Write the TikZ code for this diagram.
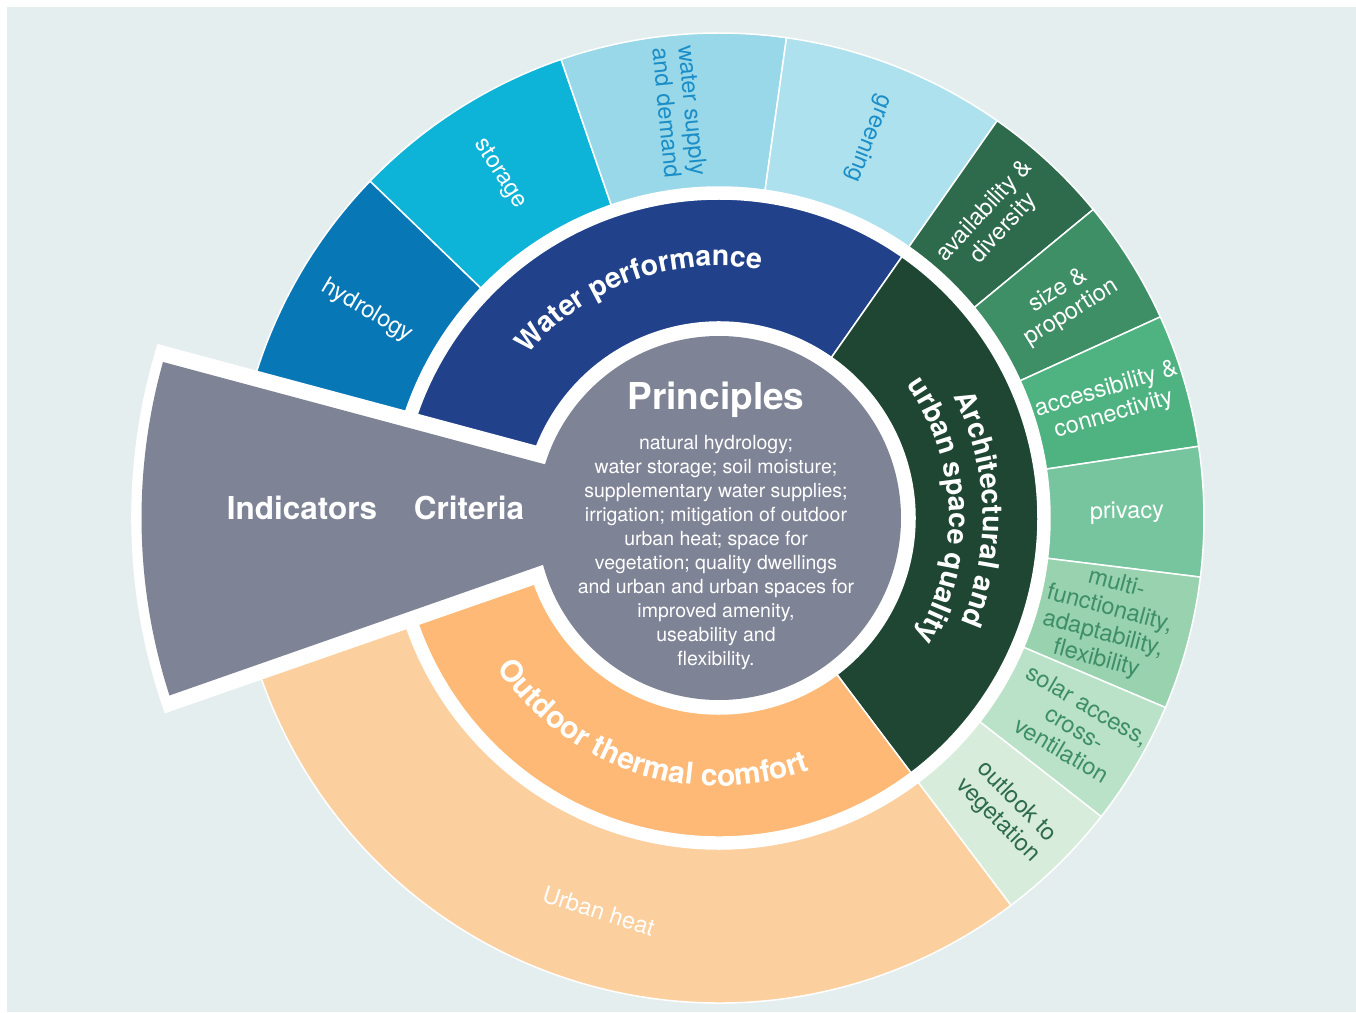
\documentclass[tikz,border=0pt]{standalone}
\usepackage{fontspec}
\setmainfont{TeX Gyre Heros}
\usetikzlibrary{decorations.text}
\definecolor{panel}{RGB}{229,238,239}
\definecolor{slate}{RGB}{126,131,150}
\definecolor{waterdark}{RGB}{33,65,138}
\definecolor{hydro}{RGB}{8,119,182}
\definecolor{stor}{RGB}{14,180,215}
\definecolor{supply}{RGB}{152,216,232}
\definecolor{greenblue}{RGB}{174,225,238}
\definecolor{bluetext}{RGB}{27,141,199}
\definecolor{archdark}{RGB}{30,70,50}
\definecolor{avail}{RGB}{46,107,77}
\definecolor{sizep}{RGB}{62,142,102}
\definecolor{access}{RGB}{78,179,129}
\definecolor{priv}{RGB}{118,197,158}
\definecolor{multif}{RGB}{152,210,175}
\definecolor{solar}{RGB}{186,226,200}
\definecolor{outlk}{RGB}{215,236,219}
\definecolor{greentext}{RGB}{62,142,102}
\definecolor{thermal}{RGB}{253,185,117}
\definecolor{heat}{RGB}{252,207,159}
\newcommand{\ringpart}[5]{\fill[#5,draw=white,line width=1.5pt] (#1:#3pt) arc[start angle=#1,end angle=#2,radius=#3pt] -- (#2:#4pt) arc[start angle=#2,end angle=#1,radius=#4pt] -- cycle;}
\newcommand{\arcfont}{\fontsize{28.5}{30}\selectfont\bfseries}
\newcommand{\arcfontbig}{\fontsize{30}{32}\selectfont\bfseries}
\tikzset{lbl/.style={font=\fontsize{23.5}{26}\selectfont,align=center,text=white},
  arctext/.style={decorate,decoration={text along path,text align=center,text color=white,text={|\arcfont|#1}}},
  arctextbig/.style={decorate,decoration={text along path,text align=center,text color=white,text={|\arcfontbig|#1}}}}

\begin{document}
\begin{tikzpicture}[x=1pt,y=1pt]
\fill[white] (-719,-494) rectangle (637,518);
\fill[panel] (-712,-494) rectangle (637,511);
\useasboundingbox (-719,-494) rectangle (637,518);

\foreach \a/\b/\c in {136/180/hydro,109/136/stor,82/109/supply,55/82/greenblue,39.5/55/avail,24.5/39.5/sizep,8.5/24.5/access,-7/8.5/priv,-23/-7/multif,-38/-23/solar,-53/-38/outlk,-180/-53/heat}
  {\ringpart{\a}{\b}{331}{485}{\c}}
\fill[white] (0,0) circle[radius=331pt];
\foreach \a/\b/\c in {55/180/waterdark,-53/55/archdark,-180/-53/thermal}
  {\ringpart{\a}{\b}{196}{319}{\c}}

\fill[white] (-150,63.7) -- (-561.5,174) arc[start angle=162.8,end angle=199.45,radius=587.5pt] -- (-150,-54.7) -- cycle;
\fill[slate] (-150,47.2) -- (-556,156) arc[start angle=164.33,end angle=197.9,radius=577.5pt] -- (-150,-37.7) -- cycle;
\fill[slate] (0,0) circle[radius=182pt];

\path[arctext=Water performance] (170:252pt) arc[start angle=170,end angle=50,radius=252pt];
\path[arctext=Architectural and] (62:264pt) arc[start angle=62,end angle=-58,radius=264pt];
\path[arctext=urban space quality] (62:230pt) arc[start angle=62,end angle=-58,radius=230pt];
\path[arctextbig=Outdoor thermal comfort] (-168:268pt) arc[start angle=-168,end angle=-48,radius=268pt];

\node[text=white,font=\fontsize{37}{40}\selectfont\bfseries] (principles) at (-3,118) {Principles};
\node[text=white,align=center,font=\fontsize{19.5}{24}\selectfont] (principlestext) at (-3,-35) {natural hydrology;\\water storage; soil moisture;\\supplementary water supplies;\\irrigation; mitigation of outdoor\\urban heat; space for\\vegetation; quality dwellings\\and urban and urban spaces for\\improved amenity,\\useability and\\flexibility.};
\node[text=white,font=\fontsize{31.5}{36}\selectfont\bfseries] (indicators) at (-417,10) {Indicators};
\node[text=white,font=\fontsize{31.5}{36}\selectfont\bfseries] (criteria) at (-250,10) {Criteria};

\node[lbl,rotate=-30.5] (hydrology) at (149.5:408pt) {hydrology};
\node[lbl,rotate=-57.5] (storage) at (122.5:408pt) {storage};
\node[lbl,text=bluetext,rotate=-84.5] (supplydemand) at (95.5:408pt) {water supply\\and demand};
\node[lbl,text=bluetext,rotate=-111.5] (greening) at (68.5:408pt) {greening};
\node[lbl,rotate=47.25] (availability) at (47.25:406pt) {availability \&\\diversity};
\node[lbl,rotate=32] (size) at (32:408pt) {size \&\\proportion};
\node[lbl,rotate=16.5] (accessibility) at (16.5:408pt) {accessibility \&\\connectivity};
\node[lbl,rotate=1] (privacy) at (0.75:408pt) {privacy};
\node[lbl,text=greentext,rotate=-15] (multi) at (-15:401pt) {multi-\\functionality,\\adaptability,\\flexibility};
\node[lbl,text=greentext,rotate=-30.5] (solaraccess) at (-30.5:413pt) {solar access,\\cross-\\ventilation};
\node[lbl,text=avail,rotate=-45.5] (outlook) at (-45.5:411pt) {outlook to\\vegetation};
\node[lbl,rotate=-18] (urbanheat) at (-107:411pt) {Urban heat};
\end{tikzpicture}
\end{document}
